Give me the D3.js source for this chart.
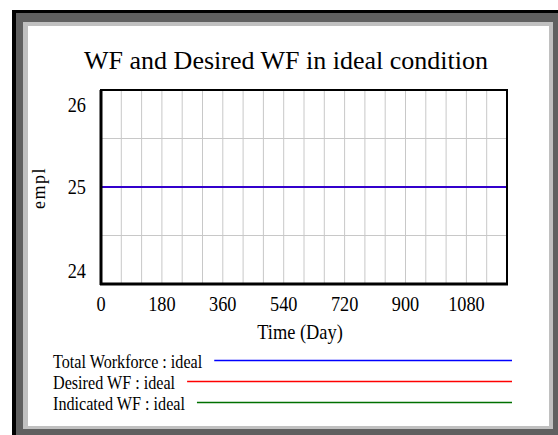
<!DOCTYPE html>
<html>
<head>
<meta charset="utf-8">
<script src="https://cdn.jsdelivr.net/npm/d3@7"></script>
<style>
  body { margin: 0; background: #fff; }
  svg text { font-family: "Liberation Serif", "Times New Roman", serif; fill: #000; }
</style>
</head>
<body>
<div id="graf"></div>
<script>
// datos
tiempos     = [0, 120, 240, 360, 480, 600, 720, 840, 960, 1080, 1200]
totalWF     = [25, 25, 25, 25, 25, 25, 25, 25, 25, 25, 25]
desiredWF   = [25, 25, 25, 25, 25, 25, 25, 25, 25, 25, 25]
indicatedWF = [25, 25, 25, 25, 25, 25, 25, 25, 25, 25, 25]
xTicks = [0, 180, 360, 540, 720, 900, 1080]
yTicks = [24, 25, 26]
nombres = ['Total Workforce : ideal', 'Desired WF : ideal', 'Indicated WF : ideal']
colores = ['#0000ff', '#ff0000', '#007000']

ancho_total = 558
alto_total = 435

svg = d3.select('#graf').append('svg')
        .attr('width', ancho_total)
        .attr('height', alto_total)

// marco tipo Vensim
svg.append('rect').attr('x', 12).attr('y', 10).attr('width', 546).attr('height', 425).attr('fill', '#000')
svg.append('rect').attr('x', 16).attr('y', 13).attr('width', 542).attr('height', 422).attr('fill', '#606060')
svg.append('rect').attr('x', 23).attr('y', 22).attr('width', 530).attr('height', 407).attr('fill', '#c0c0c0')
svg.append('rect').attr('x', 28).attr('y', 26).attr('width', 521).attr('height', 400).attr('fill', '#fff')

margins = { top: 90, left: 101, right: 51, bottom: 151 }
ancho = ancho_total - margins.left - margins.right
alto = alto_total - margins.top - margins.bottom

g = svg.append('g')
      .attr('transform', `translate(${ margins.left }, ${ margins.top })`)

x = d3.scaleLinear().domain([0, 1200]).range([0, ancho])
y = d3.scaleLinear().domain([24, 26]).range([alto, 0])

// texto comprimido horizontalmente (la fuente original es mas angosta)
function texto(sel, px, py, str, size, sx, anchor) {
  return sel.append('text')
    .attr('transform', `translate(${ px }, ${ py }) scale(${ sx }, 1)`)
    .attr('text-anchor', anchor)
    .style('font-size', size + 'px')
    .text(str)
}

// grilla
g.append('g').selectAll('line')
  .data(d3.range(60, 1200, 60))
  .enter().append('line')
    .attr('x1', d => x(d)).attr('x2', d => x(d))
    .attr('y1', 0).attr('y2', alto)
    .attr('stroke', '#c8c8c8').attr('stroke-width', 1)
g.append('g').selectAll('line')
  .data([24.5, 25, 25.5])
  .enter().append('line')
    .attr('x1', 0).attr('x2', ancho)
    .attr('y1', d => y(d)).attr('y2', d => y(d))
    .attr('stroke', '#c8c8c8').attr('stroke-width', 1)

// series
series = [indicatedWF, desiredWF, totalWF]
colSeries = [colores[2], colores[1], colores[0]]
linea = d3.line().x((d, i) => x(tiempos[i])).y(d => y(d))
series.forEach((s, k) => {
  g.append('path')
    .datum(s)
    .attr('d', linea)
    .attr('fill', 'none')
    .attr('stroke', colSeries[k])
    .attr('stroke-width', 2)
    .attr('opacity', k == 2 ? 0.8 : 1)
})

// borde del area
g.append('rect').attr('width', ancho).attr('height', alto)
  .attr('fill', 'none').attr('stroke', '#000').attr('stroke-width', 2)
g.append('line').attr('x1', 0).attr('x2', 0).attr('y1', 0).attr('y2', alto + 1)
  .attr('stroke', '#000').attr('stroke-width', 3)
g.append('line').attr('x1', -1).attr('x2', ancho + 1).attr('y1', alto).attr('y2', alto)
  .attr('stroke', '#000').attr('stroke-width', 3)

// etiquetas de ejes (las de los extremos quedan dentro del area)
xTicks.forEach(d => texto(g, x(d), alto + 27, d, 21, 0.87, 'middle'))
yTicks.forEach(d => {
  py = Math.min(Math.max(y(d) + 7, 22), alto - 6)
  texto(g, -15, py, d, 21, 0.87, 'end')
})

texto(g, ancho / 2 - 4, alto + 55, 'Time (Day)', 20, 0.92, 'middle')

svg.append('text')
  .attr('transform', `translate(45, 188) rotate(-90)`)
  .attr('text-anchor', 'middle')
  .style('font-size', '18px')
  .style('letter-spacing', '1.5px')
  .text('empl')

// titulo
texto(svg, 286, 69, 'WF and Desired WF in ideal condition', 26, 1, 'middle')

// leyenda
nombres.forEach((n, i) => {
  by = 368 + i * 21
  t = texto(svg, 53, by, n, 19, 0.85, 'start')
  fin = 53 + t.node().getComputedTextLength() * 0.85
  svg.append('line')
    .attr('x1', fin + 12).attr('x2', 512)
    .attr('y1', by - 7.5).attr('y2', by - 7.5)
    .attr('stroke', colores[i]).attr('stroke-width', 1.5)
})
</script>
</body>
</html>
